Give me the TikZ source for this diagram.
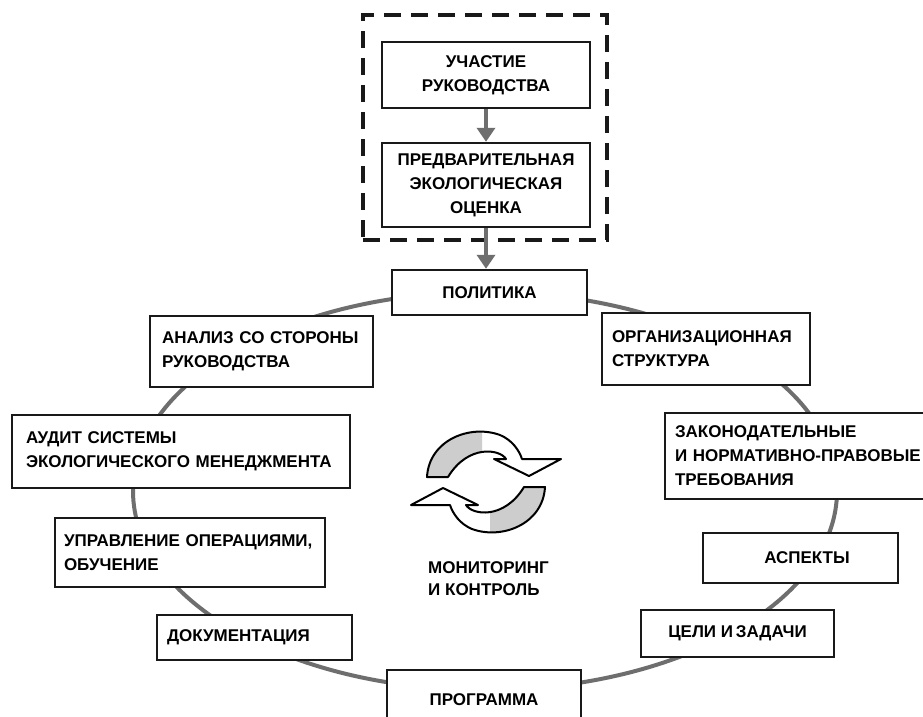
\documentclass[tikz,border=0pt]{standalone}
\usepackage{fontspec}
\setmainfont{Liberation Sans}
\usetikzlibrary{arrows.meta}
\definecolor{ringgray}{HTML}{6E6E6E}
\definecolor{iconfill}{HTML}{CDCDCD}
\newcommand\upArrowPath[1]{\path[#1] (427,477) .. controls (429,440) and (470,424) .. (500,435) .. controls (512,440) and (519,450) .. (522,459) -- (561,459) -- (529,476) -- (494,459) -- (506,459) .. controls (500,449) and (468,444) .. (448,477) -- cycle;}
\begin{document}
\begin{tikzpicture}[x=1pt,y=-1pt,
  txt/.style={font=\bfseries\fontsize{17}{24}\selectfont},
  box/.style={txt, draw=black!90, line width=2.4pt, fill=white, inner ysep=0pt, inner xsep=10pt},
  cbox/.style={box, align=center},
  lbox/.style={box, align=left},
  ring/.style={draw=ringgray, line width=4pt},
  garrow/.style={draw=ringgray, line width=4pt, -{Triangle[width=18pt,length=14pt]}},
  grpbox/.style={draw=black!90, line width=3.5pt, dash pattern=on 17pt off 10pt, inner sep=0pt}
]
\useasboundingbox (0,0) rectangle (923,716);

% cycle ring
\coordinate (c) at (485,491);
\draw[ring] (c) ellipse [x radius=352pt, y radius=199pt];

% dashed group
\node[grpbox, minimum width=244pt, minimum height=225pt] (grp) at (485,127.5) {};

% top boxes
\node[cbox, minimum width=208pt, minimum height=66pt] (uch) at (486,75) {УЧАСТИЕ\\РУКОВОДСТВА};
\node[cbox, minimum width=208pt, minimum height=84pt] (pred) at (486,185) {ПРЕДВАРИТЕЛЬНАЯ\\ЭКОЛОГИЧЕСКАЯ\\ОЦЕНКА};
\node[cbox, minimum width=195pt, minimum height=45pt] (pol) at (489.5,292.5) {ПОЛИТИКА};

\draw[garrow] (uch.south) -- (pred.north);
\draw[garrow] (pred.south) -- (pred.south |- pol.north);

% left side
\node[lbox, text width=199pt, inner xsep=12pt, minimum height=71pt] (anal) at (261.5,351.5) {АНАЛИЗ СО СТОРОНЫ\\РУКОВОДСТВА};
\node[lbox, text width=310pt, inner xsep=14pt, minimum height=73pt] (audit) at (181,451.5) {АУДИТ СИСТЕМЫ\\ЭКОЛОГИЧЕСКОГО МЕНЕДЖМЕНТА};
\node[lbox, text width=252pt, inner xsep=9pt, minimum height=69pt] (upr) at (190,552.5) {УПРАВЛЕНИЕ ОПЕРАЦИЯМИ,\\ОБУЧЕНИЕ};
\node[lbox, text width=175pt, minimum height=45pt] (doc) at (254.5,637.5) {ДОКУМЕНТАЦИЯ};

% bottom
\node[cbox, minimum width=194pt, minimum height=60pt] (prog) at (484,700) {ПРОГРАММА};

% right side
\node[lbox, text width=188pt, minimum height=72pt] (org) at (706,349) {ОРГАНИЗАЦИОННАЯ\\СТРУКТУРА};
\node[lbox, text width=260pt, minimum height=86pt] (zak) at (805,456) {ЗАКОНОДАТЕЛЬНЫЕ\\И НОРМАТИВНО-ПРАВОВЫЕ\\ТРЕБОВАНИЯ};
\node[cbox, minimum width=195pt, minimum height=50pt] (asp) at (800.5,558) {\hspace*{13pt}АСПЕКТЫ};
\node[cbox, minimum width=193pt, minimum height=47pt] (cel) at (737.5,633.5) {ЦЕЛИ И\,ЗАДАЧИ};

% central icon: upper arrow
\upArrowPath{fill=white}
\begin{scope}
  \clip (400,400) rectangle (482,500);
  \upArrowPath{fill=iconfill}
\end{scope}
\upArrowPath{draw=black, line width=2pt, line join=round}
% lower arrow (point reflection of the upper one)
\begin{scope}[shift={(972,964)}, rotate=180]
  \upArrowPath{fill=white}
  \begin{scope}
    \clip (400,400) rectangle (482,500);
    \upArrowPath{fill=iconfill}
  \end{scope}
  \upArrowPath{draw=black, line width=2pt, line join=round}
\end{scope}

\node[txt, align=left, anchor=west, inner sep=0pt, font=\bfseries\fontsize{17}{22}\selectfont] (mon) at (428,579) {МОНИТОРИНГ\\И КОНТРОЛЬ};
\end{tikzpicture}
\end{document}
